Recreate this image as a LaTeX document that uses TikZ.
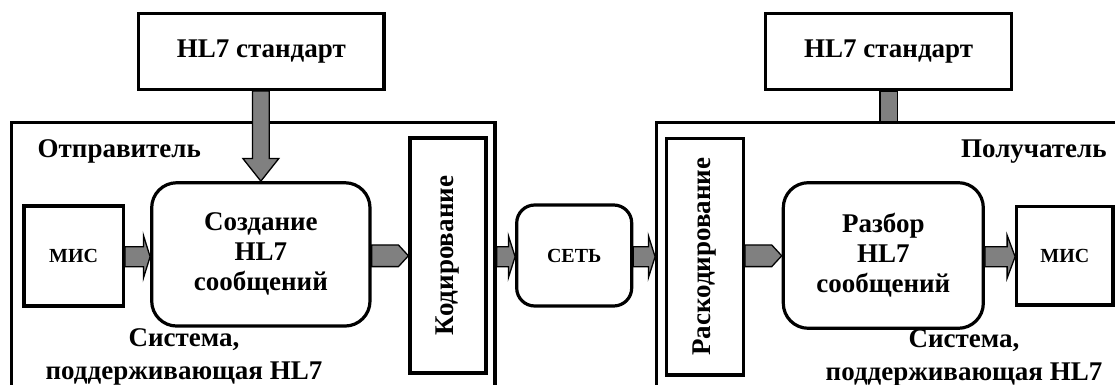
\documentclass[tikz,border=0pt]{standalone}
\usepackage{fontspec}
\setmainfont{Liberation Serif}
\usetikzlibrary{calc}
\definecolor{gray50}{RGB}{128,128,128}
\tikzset{
 box/.style={draw, line width=3.2pt, fill=white, align=center, inner sep=0pt,
   font=\bfseries\fontsize{27}{30}\selectfont},
 rbox/.style={box, rounded corners=25pt},
 small/.style={font=\bfseries\fontsize{20}{24}\selectfont},
 lbl/.style={inner sep=0pt, align=center, font=\bfseries\fontsize{27}{32.5}\selectfont},
 frame/.style={line width=3.2pt},
 garrow/.style={draw=black, fill=gray50, line width=1.3pt, line join=miter},
}
% horizontal block arrow: from, to, half shaft, half head, head length
\newcommand{\harr}[5]{%
  \draw[garrow] ($(#1)+(0,#3)$) -- ($(#2)+(-#5,#3)$) -- ($(#2)+(-#5,#4)$) -- (#2)
    -- ($(#2)+(-#5,-#4)$) -- ($(#2)+(-#5,-#3)$) -- ($(#1)+(0,-#3)$) -- cycle;}
% vertical (downward) block arrow: from, to, half shaft, half head, head length
\newcommand{\varr}[5]{%
  \draw[garrow] ($(#1)+(-#3,0)$) -- ($(#2)+(-#3,#5)$) -- ($(#2)+(-#4,#5)$) -- (#2)
    -- ($(#2)+(#4,#5)$) -- ($(#2)+(#3,#5)$) -- ($(#1)+(#3,0)$) -- cycle;}
\begin{document}
\begin{tikzpicture}[x=1pt,y=1pt]
\useasboundingbox (0,0) rectangle (1115,385);

% standards
\node[box, minimum width=245.4, minimum height=76] (hlA) at (261.3,333.7) {HL7 стандарт};
\node[box, minimum width=245.7, minimum height=76] (hlB) at (888.6,333.7) {HL7 стандарт};

% receiver link to standard (under the frame)
\coordinate (rTL) at (656.7,262.3);
\coordinate (rtop) at (hlB.south |- rTL);
\draw[garrow] ($(hlB.south)+(-8.7,0)$) rectangle ($(rtop)+(8.7,0)$);

% frames
\coordinate (sTL) at (11.8,262.3);
\coordinate (sTR) at (495,262.3);
\coordinate (sBL) at (11.8,-3);
\coordinate (sBR) at (495,-3);
\coordinate (rBL) at (656.7,-3);
\coordinate (rTR) at (1118,262.3);
\draw[frame] (sBL) -- (sTL) -- (sTR) -- (sBR);
\draw[frame] (rBL) -- (rTL) -- (rTR);

% inner blocks
\node[box, small, minimum width=99.3, minimum height=100] (mis1) at (73.65,129) {МИС};
\node[rbox, minimum width=218.3, minimum height=143.3] (create) at (260.85,130.6) {Создание\\HL7\\сообщений};
\node[box, rotate=90, minimum width=235, minimum height=76] (enc) at (448,129.5) {Кодирование};
\node[rbox, small, rounded corners=18pt, minimum width=115, minimum height=101] (net) at (574.2,129.5) {СЕТЬ};
\node[box, rotate=90, minimum width=236.7, minimum height=76.6] (dec) at (705,128.4) {Раскодирование};
\node[rbox, minimum width=200, minimum height=145.6] (parse) at (883.3,129.5) {Разбор\\HL7\\сообщений};
\node[box, small, minimum width=96.2, minimum height=98.3] (mis2) at (1064.8,129.2) {МИС};

% labels
\node[lbl, anchor=west] (snd) at (37.5,233.3) {Отправитель};
\node[lbl, anchor=east] (rcv) at (1106.8,233.3) {Получатель};
\node[lbl] (sysA) at (184,28) {Система,\\поддерживающая HL7};
\node[lbl] (sysB) at (964,27) {Система,\\поддерживающая HL7};

% arrow levels
\coordinate (ay) at (0,128.3);
\coordinate (py) at (0,129.2);

% top arrow (sender)
\coordinate (v1) at (create.north |- hlA.south);
\varr{v1}{create.north}{8.3}{18}{22.7}

% horizontal arrows
\coordinate (a1s) at (mis1.east |- ay);
\coordinate (a1e) at (create.west |- ay);
\harr{a1s}{a1e}{10}{21.5}{6.7}

\coordinate (a2s) at (create.east |- py);
\coordinate (a2e) at (enc.north |- py);
\harr{a2s}{a2e}{10.85}{10.85}{10}

\coordinate (a3s) at ($(sTR |- ay)+(1.6,0)$);
\coordinate (a3e) at (net.west |- ay);
\harr{a3s}{a3e}{10}{21}{6.7}

\coordinate (a4s) at (net.east |- ay);
\coordinate (a4e) at ($(rTL |- ay)+(-1.6,0)$);
\harr{a4s}{a4e}{10}{21}{6.7}

\coordinate (a5s) at (dec.south |- py);
\coordinate (a5e) at (parse.west |- py);
\harr{a5s}{a5e}{10.85}{10.85}{10}

\coordinate (a6s) at (parse.east |- ay);
\coordinate (a6e) at (mis2.west |- ay);
\harr{a6s}{a6e}{10}{21.5}{8}
\end{tikzpicture}
\end{document}
